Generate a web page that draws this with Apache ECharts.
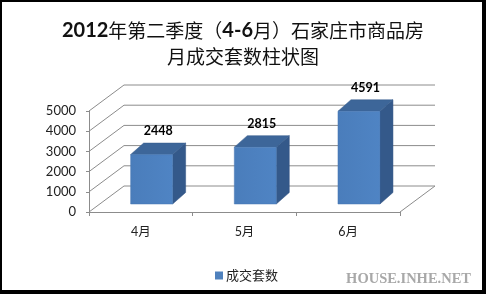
<!DOCTYPE html>
<html>
<head>
<meta charset="utf-8">
<script src="https://cdn.jsdelivr.net/npm/echarts@6/dist/echarts.min.js"></script>
<style>
html,body{margin:0;padding:0;background:#fff;}
#wrap{position:relative;width:486px;height:294px;}
#chart{width:486px;height:294px;}
#frame{position:absolute;left:0;top:0;width:486px;height:294px;box-sizing:border-box;border-style:solid;border-color:#000;border-width:2px 4px 4px 2px;pointer-events:none;}
</style>
</head>
<body>
<div id="wrap"><div id="chart"></div><div id="frame"></div></div>
<script>
// ---- data ----
const categories = ['4月', '5月', '6月'];
const seriesName = '成交套数';
const values = [2448, 2815, 4591];
const yTicks = [0, 1000, 2000, 3000, 4000, 5000];

// ---- style constants (3D look) ----
const DEPTH = [35, -26];      // floor / wall depth offset
const BAR_SHIFT = [10.8, -8]; // bar front face offset into the floor
const BAR_DEPTH = [13, -11.5];
const BAR_FRAC = 0.405;

const chart = echarts.init(document.getElementById('chart'));

function wallItem(params, api) {
  const v = api.value(0);
  const p0 = api.coord([0, v]);
  const cs = params.coordSys;
  const xl = cs.x, xr = cs.x + cs.width;
  const y = p0[1];
  const children = [];
  const ls = {stroke: '#8c8c8c', lineWidth: 1};
  children.push({type: 'line', shape: {x1: xl, y1: y, x2: xl + DEPTH[0], y2: y + DEPTH[1]}, style: ls});
  children.push({type: 'line', shape: {x1: xl + DEPTH[0], y1: y + DEPTH[1], x2: xr + DEPTH[0], y2: y + DEPTH[1]}, style: ls});
  if (v === 0) {
    children.push({type: 'line', shape: {x1: xr, y1: y, x2: xr + DEPTH[0], y2: y + DEPTH[1]}, style: ls});
  }
  return {type: 'group', children: children};
}

function barItem(params, api) {
  const idx = api.value(0);
  const val = api.value(1);
  const base = api.coord([idx, 0]);
  const top = api.coord([idx, val]);
  const w = api.size([1, 0])[0] * BAR_FRAC;
  const x0 = base[0] - w / 2 + BAR_SHIFT[0];
  const x1 = x0 + w;
  const yb = base[1] + BAR_SHIFT[1];
  const yt = top[1] + BAR_SHIFT[1];
  const dx = BAR_DEPTH[0], dy = BAR_DEPTH[1];
  return {
    type: 'group',
    children: [
      {type: 'polygon', shape: {points: [[x1, yt], [x1 + dx, yt + dy], [x1 + dx, yb + dy], [x1, yb]]},
        style: {fill: '#34598a', stroke: '#2e5080', lineWidth: 0.5}},
      {type: 'polygon', shape: {points: [[x0, yt], [x0 + dx, yt + dy], [x1 + dx, yt + dy], [x1, yt]]},
        style: {fill: '#3d6699', stroke: '#365c8c', lineWidth: 0.5}},
      {type: 'rect', shape: {x: x0, y: yt, width: w, height: yb - yt},
        style: {fill: new echarts.graphic.LinearGradient(0, 0, 1, 0, [{offset: 0, color: '#4a7dbb'}, {offset: 1, color: '#4f84c4'}]), stroke: '#4677b3', lineWidth: 0.5}},
      {type: 'text', x: (x0 + x1) / 2 + dx / 2, y: yt + dy - 12,
        style: {text: String(val), fill: '#000', font: 'bold 12.5px Lato, "Liberation Sans", sans-serif', align: 'center', verticalAlign: 'middle'}}
    ]
  };
}

chart.setOption({
  animation: false,
  backgroundColor: '#fff',
  title: {
    left: 'center',
    top: 13,
    text: '{b|2012}{n|年第二季度（}{b|4-6}{n|月）石家庄市商品房}\n{n|月成交套数柱状图}',
    textStyle: {
      rich: {
        b: {fontFamily: 'Lato, "Liberation Sans", sans-serif', fontWeight: 'bold', fontSize: 20, color: '#111', lineHeight: 26},
        n: {fontFamily: '"Noto Sans CJK SC", sans-serif', fontWeight: 'normal', fontSize: 19, color: '#111', lineHeight: 26}
      }
    }
  },
  legend: {
    data: [seriesName],
    left: 210, top: 264,
    icon: 'rect', itemWidth: 8, itemHeight: 8, itemGap: 4,
    textStyle: {fontFamily: '"Noto Sans CJK SC", sans-serif', fontSize: 13, color: '#222', padding: [0, 0, 0, -2]}
  },
  graphic: [{
    type: 'text', right: 15, top: 272,
    style: {text: 'HOUSE.INHE.NET', fill: '#a8a8a8', font: 'bold 14.5px "Liberation Serif", "DejaVu Serif", serif'}
  }],
  grid: {left: 89, top: 111, width: 311, height: 101},
  xAxis: {
    type: 'category', data: categories, boundaryGap: true,
    axisLine: {lineStyle: {color: '#8c8c8c'}},
    axisTick: {show: true, alignWithLabel: false, length: 4, lineStyle: {color: '#8c8c8c'}},
    axisLabel: {margin: 14, color: '#222', fontSize: 12.5, fontFamily: 'Lato, "Noto Sans CJK SC", sans-serif'}
  },
  yAxis: {
    type: 'value', min: 0, max: 5000, interval: 1000,
    axisLine: {show: true, lineStyle: {color: '#8c8c8c'}},
    axisTick: {show: true, length: 3, lineStyle: {color: '#8c8c8c'}},
    splitLine: {show: false},
    axisLabel: {margin: 13, color: '#222', fontSize: 13, fontFamily: 'Lato, "Liberation Sans", sans-serif',
      formatter: function (v) { return String(v); }}
  },
  series: [
    {type: 'custom', name: 'walls', renderItem: wallItem, data: yTicks.map(v => [v]), encode: {y: 0}, silent: true, z: 1},
    {type: 'custom', name: seriesName, renderItem: barItem, itemStyle: {color: '#4f81bd'},
      data: values.map((v, i) => [i, v]), encode: {x: 0, y: 1}, z: 2}
  ]
});
</script>
</body>
</html>
